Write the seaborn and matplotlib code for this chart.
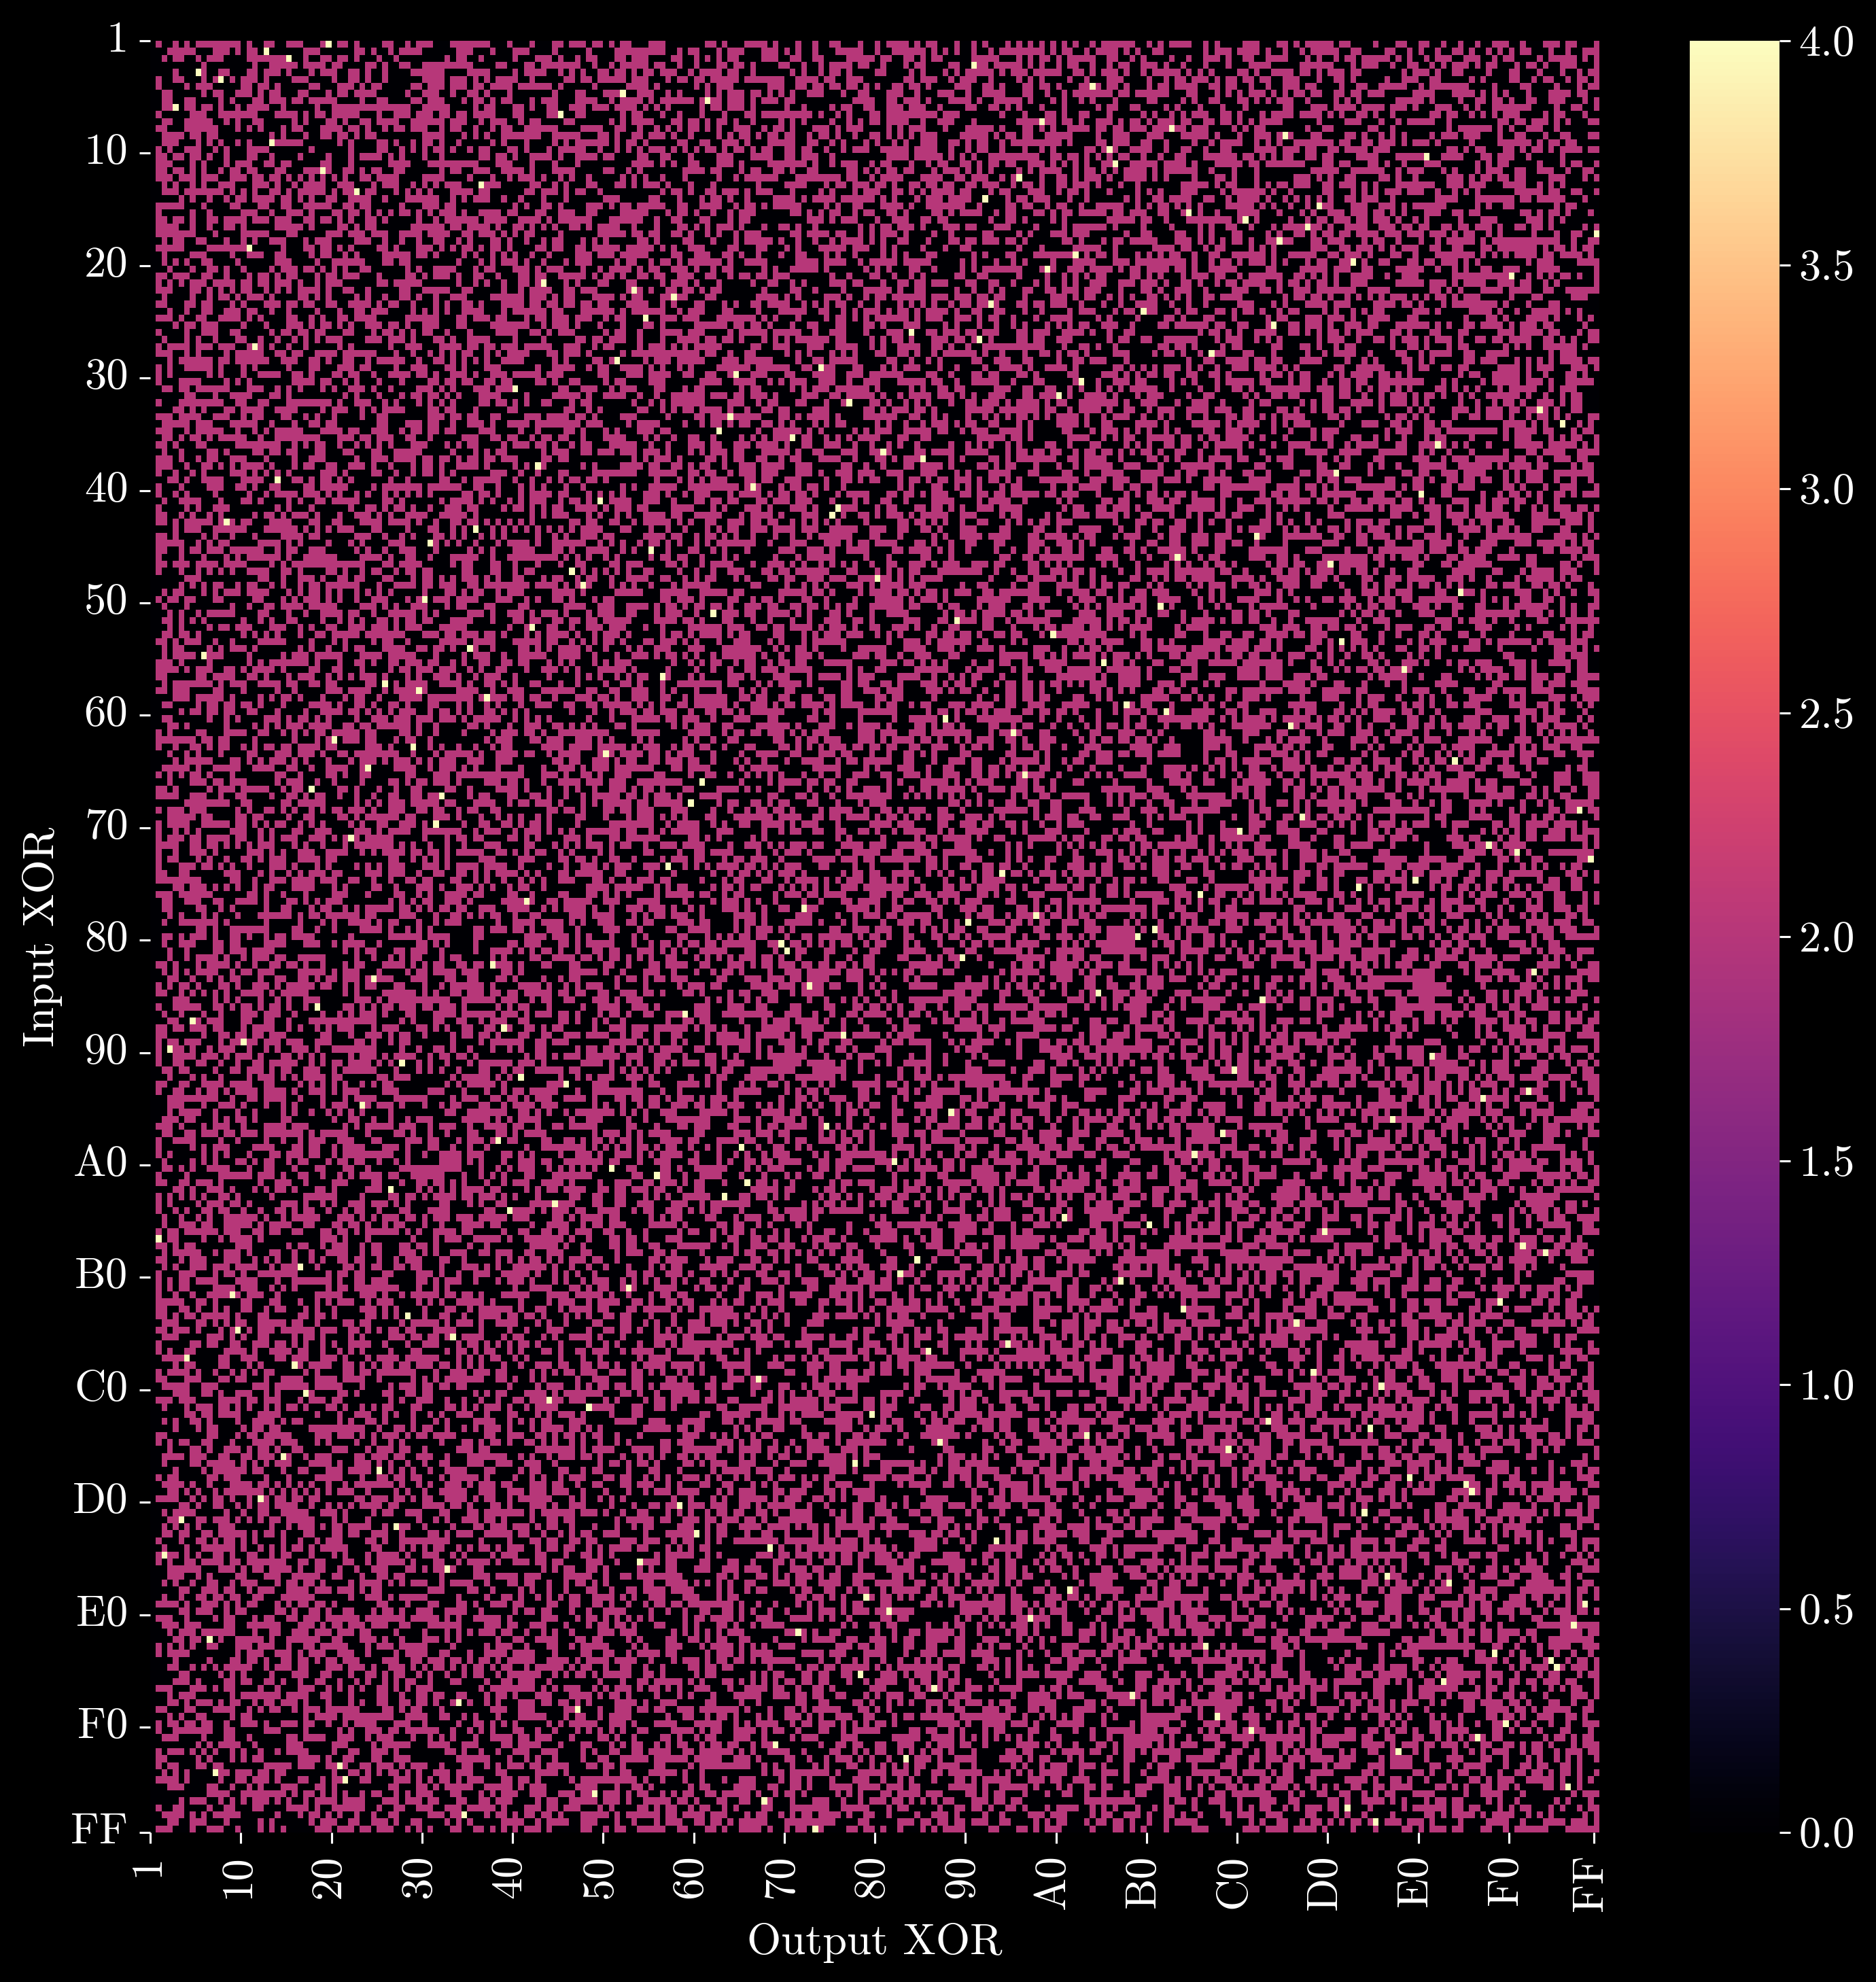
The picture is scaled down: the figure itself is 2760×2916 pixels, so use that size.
import numpy as np
import matplotlib
matplotlib.use('Agg')
import matplotlib.pyplot as plt
import matplotlib.transforms as mtransforms
import seaborn as sns

# AES S-box. The heatmap is its difference distribution table, counted below
# (too many cells to read off the picture one by one)
sbox = [
    0x63, 0x7c, 0x77, 0x7b, 0xf2, 0x6b, 0x6f, 0xc5, 0x30, 0x01, 0x67, 0x2b, 0xfe, 0xd7, 0xab, 0x76,
    0xca, 0x82, 0xc9, 0x7d, 0xfa, 0x59, 0x47, 0xf0, 0xad, 0xd4, 0xa2, 0xaf, 0x9c, 0xa4, 0x72, 0xc0,
    0xb7, 0xfd, 0x93, 0x26, 0x36, 0x3f, 0xf7, 0xcc, 0x34, 0xa5, 0xe5, 0xf1, 0x71, 0xd8, 0x31, 0x15,
    0x04, 0xc7, 0x23, 0xc3, 0x18, 0x96, 0x05, 0x9a, 0x07, 0x12, 0x80, 0xe2, 0xeb, 0x27, 0xb2, 0x75,
    0x09, 0x83, 0x2c, 0x1a, 0x1b, 0x6e, 0x5a, 0xa0, 0x52, 0x3b, 0xd6, 0xb3, 0x29, 0xe3, 0x2f, 0x84,
    0x53, 0xd1, 0x00, 0xed, 0x20, 0xfc, 0xb1, 0x5b, 0x6a, 0xcb, 0xbe, 0x39, 0x4a, 0x4c, 0x58, 0xcf,
    0xd0, 0xef, 0xaa, 0xfb, 0x43, 0x4d, 0x33, 0x85, 0x45, 0xf9, 0x02, 0x7f, 0x50, 0x3c, 0x9f, 0xa8,
    0x51, 0xa3, 0x40, 0x8f, 0x92, 0x9d, 0x38, 0xf5, 0xbc, 0xb6, 0xda, 0x21, 0x10, 0xff, 0xf3, 0xd2,
    0xcd, 0x0c, 0x13, 0xec, 0x5f, 0x97, 0x44, 0x17, 0xc4, 0xa7, 0x7e, 0x3d, 0x64, 0x5d, 0x19, 0x73,
    0x60, 0x81, 0x4f, 0xdc, 0x22, 0x2a, 0x90, 0x88, 0x46, 0xee, 0xb8, 0x14, 0xde, 0x5e, 0x0b, 0xdb,
    0xe0, 0x32, 0x3a, 0x0a, 0x49, 0x06, 0x24, 0x5c, 0xc2, 0xd3, 0xac, 0x62, 0x91, 0x95, 0xe4, 0x79,
    0xe7, 0xc8, 0x37, 0x6d, 0x8d, 0xd5, 0x4e, 0xa9, 0x6c, 0x56, 0xf4, 0xea, 0x65, 0x7a, 0xae, 0x08,
    0xba, 0x78, 0x25, 0x2e, 0x1c, 0xa6, 0xb4, 0xc6, 0xe8, 0xdd, 0x74, 0x1f, 0x4b, 0xbd, 0x8b, 0x8a,
    0x70, 0x3e, 0xb5, 0x66, 0x48, 0x03, 0xf6, 0x0e, 0x61, 0x35, 0x57, 0xb9, 0x86, 0xc1, 0x1d, 0x9e,
    0xe1, 0xf8, 0x98, 0x11, 0x69, 0xd9, 0x8e, 0x94, 0x9b, 0x1e, 0x87, 0xe9, 0xce, 0x55, 0x28, 0xdf,
    0x8c, 0xa1, 0x89, 0x0d, 0xbf, 0xe6, 0x42, 0x68, 0x41, 0x99, 0x2d, 0x0f, 0xb0, 0x54, 0xbb, 0x16,
]
tick_labels = ['1', '10', '20', '30', '40', '50', '60', '70', '80', '90',
               'A0', 'B0', 'C0', 'D0', 'E0', 'F0', 'FF']
tick_positions = [0, 16, 32, 48, 64, 80, 96, 112, 128, 144, 160, 176, 192, 208, 224, 240, 255]
cbar_ticks = [0.0, 0.5, 1.0, 1.5, 2.0, 2.5, 3.0, 3.5, 4.0]
cbar_labels = ['0.0', '0.5', '1.0', '1.5', '2.0', '2.5', '3.0', '3.5', '4.0']

# Count output differences per input difference, then drop the input XOR 0 row
ddt = np.zeros((256, 256), dtype=int)
for dx in range(256):
    for x in range(256):
        ddt[dx, sbox[x] ^ sbox[x ^ dx]] += 1
ddt = ddt[1:]

plt.style.use('dark_background')
plt.rcParams['font.family'] = ['cmr10', 'DejaVu Serif']
plt.rcParams['axes.formatter.use_mathtext'] = True
plt.rcParams['axes.unicode_minus'] = False

W, H = 2760, 2916
fig = plt.figure(figsize=(W / 300, H / 300), dpi=300, facecolor='black')
ax = fig.add_axes([221 / W, (H - 2696) / H, (2353 - 221) / W, 2636 / H])
cax = fig.add_axes([2486 / W, (H - 2696) / H, 132 / W, 2636 / H])

sns.heatmap(ddt, cmap='magma', vmin=0, vmax=4, ax=ax, cbar_ax=cax)

fs = 15.5
ax.set_xticks(tick_positions)
ax.set_xticklabels(tick_labels, rotation=90, fontsize=fs)
ax.set_yticks(tick_positions)
ax.set_yticklabels(tick_labels, rotation=0, fontsize=fs)
ax.tick_params(axis='both', length=3.8, width=0.75, pad=4, colors='white')
ax.set_xlabel('Output XOR', fontsize=fs, color='white', labelpad=4)
ax.set_ylabel('Input XOR', fontsize=fs, color='white', labelpad=3)

# nudge the rotated labels left a little
shift = mtransforms.ScaledTranslation(-0.9 / 72, 0, fig.dpi_scale_trans)
for lab in ax.get_xticklabels():
    lab.set_transform(lab.get_transform() + shift)

cax.set_yticks(cbar_ticks)
cax.set_yticklabels(cbar_labels, fontsize=fs)
cax.tick_params(axis='y', length=3.8, width=0.75, pad=3, colors='white')

fig.savefig('out.png', dpi=300, facecolor='black')
